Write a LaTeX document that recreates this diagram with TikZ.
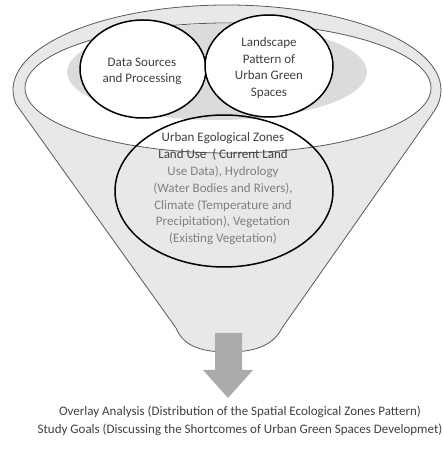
\documentclass[tikz,border=0pt]{standalone}
\usepackage{fontspec}
\setmainfont{Carlito}
\usetikzlibrary{shapes.geometric}
\begin{document}
\begin{tikzpicture}[x=1pt,y=1pt,
  ringfill/.style={fill=black!9},
  edge/.style={draw=black!65,line width=0.8pt},
  bubble/.style={draw=black,line width=1.5pt},
  lbl/.style={align=center,font=\fontsize{13}{16.8}\selectfont,text=black!75,inner sep=0pt},
  arrowgray/.style={fill=black!33,draw=none}]
\useasboundingbox (0,0) rectangle (442,449);
% funnel body
\draw[edge,ringfill] (227,359) ++(189.5:214 and 85) arc[start angle=189.5,end angle=-13.6,x radius=214,y radius=85]
  -- (282,121) .. controls (272,101) and (250,97) .. (228,97)
  .. controls (205,97) and (184,101) .. (176,121) -- cycle;
% inner opening
\draw[edge,fill=white] (228,361) ellipse[x radius=203,y radius=65];
% soft gray shading
\fill[black!14] (217,377) ellipse[x radius=150,y radius=48];
% circles
\node[bubble,fill=white,ellipse,minimum width=126,minimum height=98,inner sep=0pt] (ds) at (143,380) {};
\node[bubble,fill=white,ellipse,minimum width=128,minimum height=102,inner sep=0pt] (lp) at (269,383) {};
\node[bubble,ellipse,minimum width=218,minimum height=152,inner sep=0pt] (ez) at (224,258) {};
\node[lbl] (dst) at (142,377.5) {Data Sources\\and Processing};
\node[lbl] (lpt) at (269,381) {Landscape\\Pattern of\\Urban Green\\Spaces};
\node[lbl] (ezt) at (223,260) {Urban Egological Zones\\Land Use~~( Current Land\\\textcolor{black!50}{Use Data), Hydrology}\\\textcolor{black!50}{(Water Bodies and Rivers),}\\\textcolor{black!50}{Climate (Temperature and}\\\textcolor{black!50}{Precipitation), Vegetation}\\\textcolor{black!50}{(Existing Vegetation)}};
% arrow
\fill[arrowgray] (215,116) -- (242,116) -- (242,79) -- (253,79) -- (228,51) -- (203,79) -- (215,79) -- cycle;
\coordinate (atip) at (228,51);
\node[lbl] (ov) at (240,37) {Overlay Analysis (Distribution of the Spatial Ecological Zones Pattern)};
\node[lbl] (sg) at (240,19) {Study Goals (Discussing the Shortcomes of Urban Green Spaces Developmet)};
\end{tikzpicture}
\end{document}
